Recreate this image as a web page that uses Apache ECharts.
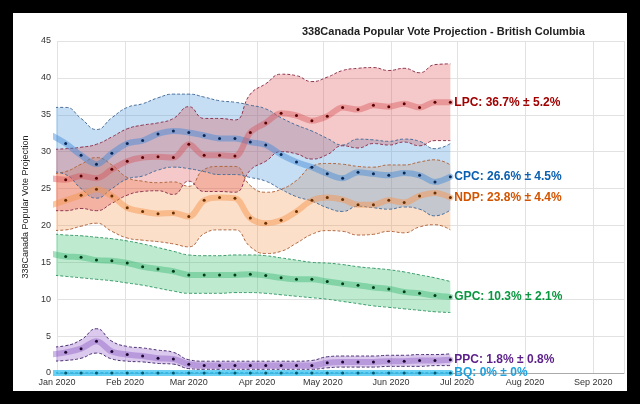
<!DOCTYPE html>
<html>
<head>
<meta charset="utf-8">
<title>338Canada Popular Vote Projection - British Columbia</title>
<style>
  html, body { margin: 0; padding: 0; background: #000; }
  #frame { position: absolute; left: 0; top: 0; width: 640px; height: 404px; background: #000; }
  #chart { position: absolute; left: 13px; top: 13px; width: 614px; height: 378px; background: #fff; }
</style>
</head>
<body>
<div id="frame"><div id="chart"></div></div>
<script src="https://cdn.jsdelivr.net/npm/echarts/dist/echarts.min.js"></script>
<script type="text/javascript">

// weekly projection dates (first one falls just left of the axis and is clipped)
var dates = ['2019-12-29','2020-01-05','2020-01-12','2020-01-19','2020-01-26','2020-02-02','2020-02-09','2020-02-16',
  '2020-02-23','2020-03-01','2020-03-08','2020-03-15','2020-03-22','2020-03-29','2020-04-05','2020-04-12',
  '2020-04-19','2020-04-26','2020-05-03','2020-05-10','2020-05-17','2020-05-24','2020-05-31','2020-06-07',
  '2020-06-14','2020-06-21','2020-06-28'];

var lpcMean = [26.4, 26.2, 26.7, 26.4, 27.6, 28.7, 29.2, 29.3, 29.2, 31.0, 29.5, 29.5, 29.4, 32.6, 33.9, 35.2, 34.9, 34.2, 34.8, 36.0, 35.7, 36.3, 36.1, 36.5, 36.0, 36.7, 36.7];
var lpcHigh = [30.3, 30.4, 30.6, 31.0, 32.0, 33.1, 33.6, 33.9, 34.5, 36.1, 34.5, 34.5, 34.3, 37.8, 39.2, 40.5, 40.3, 39.5, 40.1, 41.0, 41.3, 41.4, 41.0, 41.3, 40.7, 41.8, 41.9];
var lpcLow  = [22.0, 22.0, 22.3, 22.0, 23.0, 24.1, 24.6, 24.7, 24.2, 26.0, 24.6, 24.6, 24.5, 27.5, 28.7, 30.0, 29.7, 29.0, 29.6, 30.8, 30.5, 31.1, 30.9, 31.3, 30.8, 31.5, 31.5];

var cpcMean = [32.3, 31.1, 29.5, 28.3, 29.8, 31.1, 31.5, 32.4, 32.8, 32.6, 32.2, 31.8, 31.8, 31.3, 30.9, 29.6, 28.6, 27.9, 27.0, 26.4, 27.2, 27.0, 26.8, 27.1, 26.8, 25.9, 26.6];
var cpcHigh = [36.0, 36.0, 34.5, 33.0, 34.6, 36.0, 36.5, 37.3, 37.8, 37.8, 37.4, 36.9, 36.7, 36.3, 35.8, 34.6, 33.6, 32.8, 31.8, 30.9, 31.7, 31.6, 31.4, 31.7, 31.4, 30.4, 31.1];
var cpcLow  = [27.3, 26.9, 25.0, 23.7, 25.0, 26.3, 26.7, 27.5, 27.9, 27.7, 27.3, 26.9, 26.9, 26.5, 26.0, 24.9, 23.9, 23.3, 22.4, 21.9, 22.6, 22.4, 22.2, 22.5, 22.2, 21.3, 22.1];

var ndpMean = [22.7, 23.4, 24.1, 24.9, 24.0, 22.4, 21.9, 21.6, 21.7, 21.2, 23.4, 23.8, 23.7, 21.0, 20.3, 20.7, 21.9, 23.4, 23.8, 23.5, 22.8, 22.8, 23.4, 23.1, 24.0, 24.4, 23.8];
var ndpHigh = [27.0, 27.3, 28.3, 29.2, 28.2, 26.5, 26.0, 25.8, 25.9, 25.3, 27.6, 28.0, 28.0, 25.4, 24.5, 24.9, 26.1, 28.0, 28.4, 28.3, 28.0, 27.9, 28.2, 28.2, 28.6, 28.9, 28.2];
var ndpLow  = [19.3, 19.4, 19.9, 20.3, 19.2, 18.3, 18.0, 17.8, 17.5, 17.1, 18.9, 19.4, 19.4, 17.1, 16.2, 16.5, 17.6, 18.8, 19.3, 19.2, 18.7, 18.8, 19.2, 19.0, 19.8, 20.1, 19.4];

var gpcMean = [16.2, 15.8, 15.7, 15.3, 15.2, 14.9, 14.4, 14.1, 13.8, 13.3, 13.3, 13.3, 13.3, 13.4, 13.2, 12.9, 12.7, 12.7, 12.4, 12.1, 11.9, 11.6, 11.4, 11.0, 10.8, 10.5, 10.3];
var gpcHigh = [18.9, 18.7, 18.6, 18.4, 18.2, 17.9, 17.5, 17.0, 16.5, 16.0, 15.9, 15.9, 16.0, 16.0, 15.9, 15.6, 15.3, 15.0, 14.9, 14.7, 14.4, 14.2, 14.0, 13.7, 13.3, 12.9, 12.4];
var gpcLow  = [13.3, 13.1, 12.9, 12.7, 12.5, 12.2, 11.9, 11.5, 11.1, 10.8, 10.8, 10.8, 10.9, 10.9, 10.8, 10.6, 10.4, 10.2, 10.0, 9.7, 9.4, 9.1, 8.9, 8.7, 8.5, 8.3, 8.2];

var ppcMean = [2.5, 2.8, 3.3, 4.3, 2.9, 2.5, 2.3, 2.0, 1.9, 1.2, 1.0, 1.0, 1.0, 1.0, 1.0, 1.0, 1.0, 1.0, 1.4, 1.5, 1.5, 1.5, 1.6, 1.6, 1.7, 1.7, 1.8];
var ppcHigh = [3.5, 3.7, 4.5, 6.0, 4.3, 3.6, 3.4, 3.1, 2.8, 1.8, 1.6, 1.6, 1.6, 1.6, 1.6, 1.6, 1.6, 1.7, 2.2, 2.3, 2.3, 2.3, 2.4, 2.4, 2.5, 2.5, 2.6];
var ppcLow  = [1.6, 1.7, 2.0, 2.7, 1.9, 1.6, 1.5, 1.3, 1.2, 0.6, 0.5, 0.5, 0.5, 0.5, 0.5, 0.5, 0.5, 0.5, 0.7, 0.8, 0.8, 0.8, 0.9, 0.9, 0.9, 1.0, 1.0];

var bqMean = [0, 0, 0, 0, 0, 0, 0, 0, 0, 0, 0, 0, 0, 0, 0, 0, 0, 0, 0, 0, 0, 0, 0, 0, 0, 0, 0];
var bqHigh = [0, 0, 0, 0, 0, 0, 0, 0, 0, 0, 0, 0, 0, 0, 0, 0, 0, 0, 0, 0, 0, 0, 0, 0, 0, 0, 0];
var bqLow  = [0, 0, 0, 0, 0, 0, 0, 0, 0, 0, 0, 0, 0, 0, 0, 0, 0, 0, 0, 0, 0, 0, 0, 0, 0, 0, 0];

var endTexts = {
  LPC: 'LPC: 36.7% ± 5.2%',
  CPC: 'CPC: 26.6% ± 4.5%',
  NDP: 'NDP: 23.8% ± 4.4%',
  GPC: 'GPC: 10.3% ± 2.1%',
  PPC: 'PPC: 1.8% ± 0.8%',
  BQ:  'BQ: 0% ± 0%'
};

var yTicks = [0, 5, 10, 15, 20, 25, 30, 35, 40, 45];

var parties = [
  { name: 'GPC', mean: gpcMean, high: gpcHigh, low: gpcLow },
  { name: 'PPC', mean: ppcMean, high: ppcHigh, low: ppcLow },
  { name: 'BQ',  mean: bqMean,  high: bqHigh,  low: bqLow },
  { name: 'NDP', mean: ndpMean, high: ndpHigh, low: ndpLow },
  { name: 'CPC', mean: cpcMean, high: cpcHigh, low: cpcLow },
  { name: 'LPC', mean: lpcMean, high: lpcHigh, low: lpcLow }
];

// colours: band fill, dashed edge, mean line, dots, label text
var styles = {
  LPC: { fill: 'rgba(220,60,60,0.28)',  edge: '#8e3550', line: 'rgba(215,80,85,0.42)',  dot: '#5a0000', text: '#a00000' },
  CPC: { fill: 'rgba(66,146,218,0.30)', edge: '#4a6f9a', line: 'rgba(60,135,215,0.45)', dot: '#08285a', text: '#0a5fb0' },
  NDP: { fill: 'rgba(245,140,60,0.28)', edge: '#b06840', line: 'rgba(245,150,80,0.50)', dot: '#6a3000', text: '#d35400' },
  GPC: { fill: 'rgba(40,190,100,0.30)', edge: '#3a9a6a', line: 'rgba(40,175,100,0.40)', dot: '#003a18', text: '#0a9640' },
  PPC: { fill: 'rgba(140,80,200,0.30)', edge: '#4a3070', line: 'rgba(130,80,190,0.40)', dot: '#1a0630', text: '#5b1f8a' },
  BQ:  { fill: 'rgba(0,170,230,0.30)',  edge: '#1a90c0', line: 'rgba(40,190,240,0.70)', dot: '#005a70', text: '#1ea0dc' }
};

function pairs(values) {
  var out = [];
  for (var i = 0; i < dates.length; i++) {
    out.push([dates[i], values[i]]);
  }
  return out;
}

function widths(high, low) {
  var out = [];
  for (var i = 0; i < high.length; i++) {
    out.push(+(high[i] - low[i]).toFixed(2));
  }
  return out;
}

var series = [];

// uncertainty bands: lower edge + stacked width
parties.forEach(function (p) {
  var s = styles[p.name];
  series.push({
    name: p.name + ' low',
    type: 'line',
    stack: p.name,
    data: pairs(p.low),
    smooth: 0.5,
    symbol: 'none',
    silent: true,
    z: 1,
    lineStyle: { color: s.edge, width: 1, type: [3, 2] }
  });
  series.push({
    name: p.name + ' band',
    type: 'line',
    stack: p.name,
    data: pairs(widths(p.high, p.low)),
    smooth: 0.5,
    symbol: 'none',
    silent: true,
    z: 1,
    lineStyle: { color: s.edge, width: 1, type: [3, 2] },
    areaStyle: { color: s.fill, opacity: 1 }
  });
});

// mean lines with weekly dots and end labels
parties.forEach(function (p) {
  var s = styles[p.name];
  series.push({
    name: p.name,
    type: 'line',
    data: pairs(p.mean),
    smooth: 0.35,
    symbol: 'circle',
    symbolSize: 3,
    showAllSymbol: true,
    z: 3,
    lineStyle: { color: s.line, width: 6, cap: 'round' },
    itemStyle: { color: s.dot, borderWidth: 0 },
    endLabel: {
      show: true,
      formatter: endTexts[p.name],
      color: s.text,
      fontFamily: 'Liberation Sans, Arial, sans-serif',
      fontWeight: 'bold',
      fontSize: 12,
      distance: 4
    }
  });
});

var myChart = echarts.init(document.getElementById('chart'));
var option = {
  animation: false,
  backgroundColor: '#fff',
  textStyle: { fontFamily: 'Liberation Sans, Arial, sans-serif' },
  title: {
    text: '338Canada Popular Vote Projection - British Columbia',
    left: 284,
    top: 8,
    textStyle: { fontSize: 11, fontWeight: 'bold', color: '#222' }
  },
  grid: { left: 39, right: 3, top: 28, bottom: 18 },
  xAxis: {
    type: 'time',
    min: '2020-01-01',
    max: '2020-09-15',
    minInterval: 28 * 86400000,
    maxInterval: 31 * 86400000,
    axisLine: { lineStyle: { color: '#aaa' } },
    axisTick: { show: false },
    axisLabel: { formatter: '{MMM} {yyyy}', fontSize: 9, color: '#333', margin: 5, hideOverlap: false },
    splitLine: { show: true, lineStyle: { color: '#e2e2e2' } }
  },
  yAxis: {
    type: 'value',
    min: yTicks[0],
    max: yTicks[yTicks.length - 1],
    interval: 5,
    name: '338Canada Popular Vote Projection',
    nameLocation: 'middle',
    nameGap: 24,
    nameTextStyle: { fontSize: 9, color: '#222' },
    axisLine: { show: false },
    axisTick: { show: false },
    axisLabel: { fontSize: 9, color: '#333', margin: 6 },
    splitLine: { lineStyle: { color: '#e2e2e2' } }
  },
  series: series
};
myChart.setOption(option);

</script>
</body>
</html>
